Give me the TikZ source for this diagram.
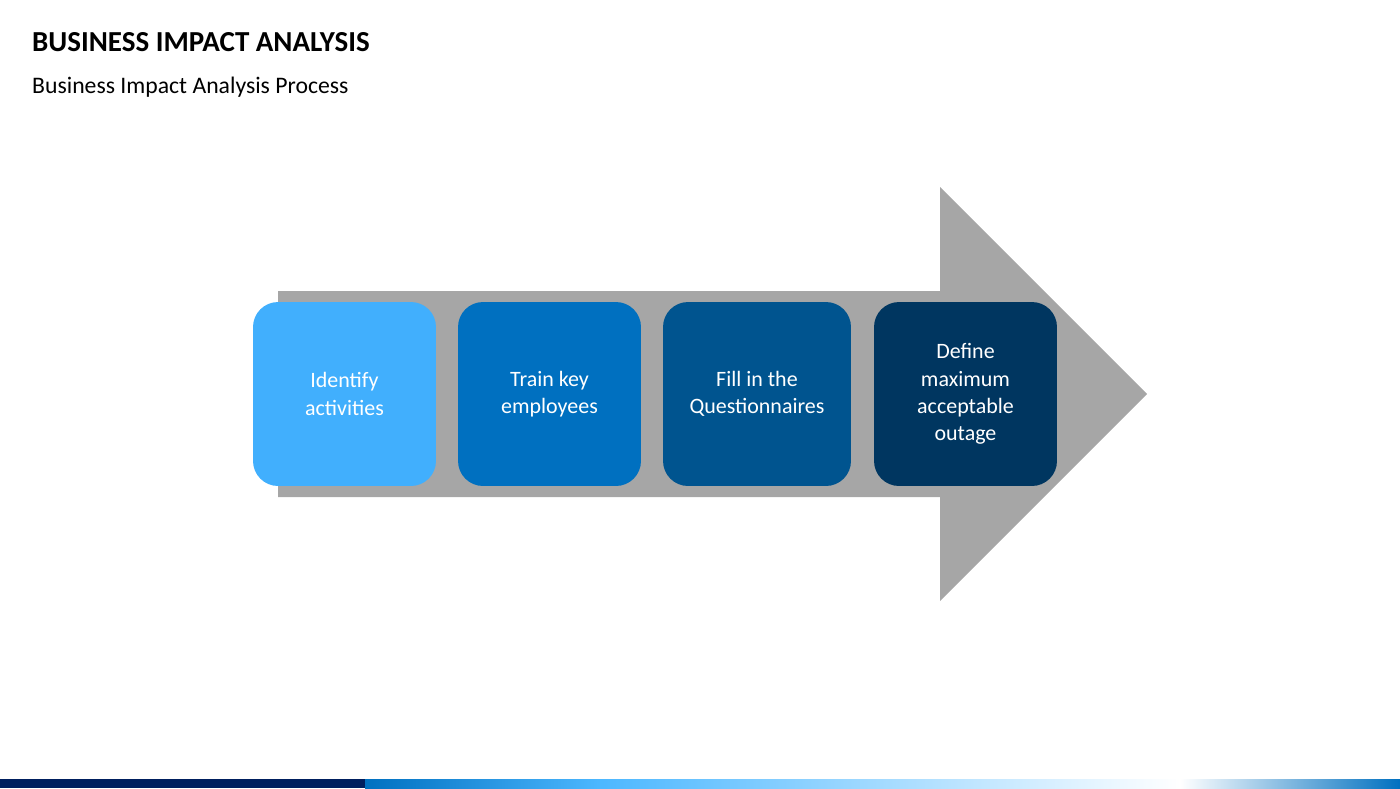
\documentclass[tikz,border=0pt]{standalone}
\usepackage{fontspec}
\setmainfont{Carlito}
\definecolor{stepA}{HTML}{41AFFD}
\definecolor{stepB}{HTML}{0070C0}
\definecolor{stepC}{HTML}{00548F}
\definecolor{stepD}{HTML}{003660}
\definecolor{navy}{HTML}{001F5F}
\definecolor{arrowgray}{HTML}{A6A6A6}
\tikzset{
    stepbox/.style={rounded corners=0.5cm, minimum height=3.68cm, text=white,
        align=center, font=\fontsize{12.5}{15.5}\selectfont, inner sep=0pt},
}
\begin{document}
\begin{tikzpicture}[x=0.02cm,y=-0.02cm]
        \useasboundingbox (0,0) rectangle (1400,788);
        % Titel
        \node[anchor=west, font=\fontsize{16.5}{20}\selectfont\bfseries] (title) at (26,42) {BUSINESS IMPACT ANALYSIS};
        \node[anchor=west, font=\fontsize{13.5}{16}\selectfont] (subtitle) at (26,87) {Business Impact Analysis Process};
        % Pfeil
        \fill[arrowgray]
        (278,291) -- (940,291) -- (940,187) -- (1147,394) -- (940,601) -- (940,497) -- (278,497) -- cycle;
        % Schritte
        \node[stepbox, fill=stepA, minimum width=3.66cm] (s1) at (344.5,394) {Identify\\activities};
        \node[stepbox, fill=stepB, minimum width=3.66cm] (s2) at (549.5,394) {Train key\\employees};
        \node[stepbox, fill=stepC, minimum width=3.76cm] (s3) at (757,394) {Fill in the\\Questionnaires};
        \node[stepbox, fill=stepD, minimum width=3.66cm] (s4) at (965.5,394) {Define\\maximum\\acceptable\\outage};
        % Fußleiste
        \fill[navy] (0,779) rectangle (365,788);
        \shade[left color=stepB, right color=cyan!60!blue!70] (365,779) rectangle (600,788);
        \shade[left color=cyan!60!blue!70, right color=white] (600,779) rectangle (1180,788);
        \shade[left color=white, right color=stepB] (1180,779) rectangle (1400,788);
\end{tikzpicture}
\end{document}
